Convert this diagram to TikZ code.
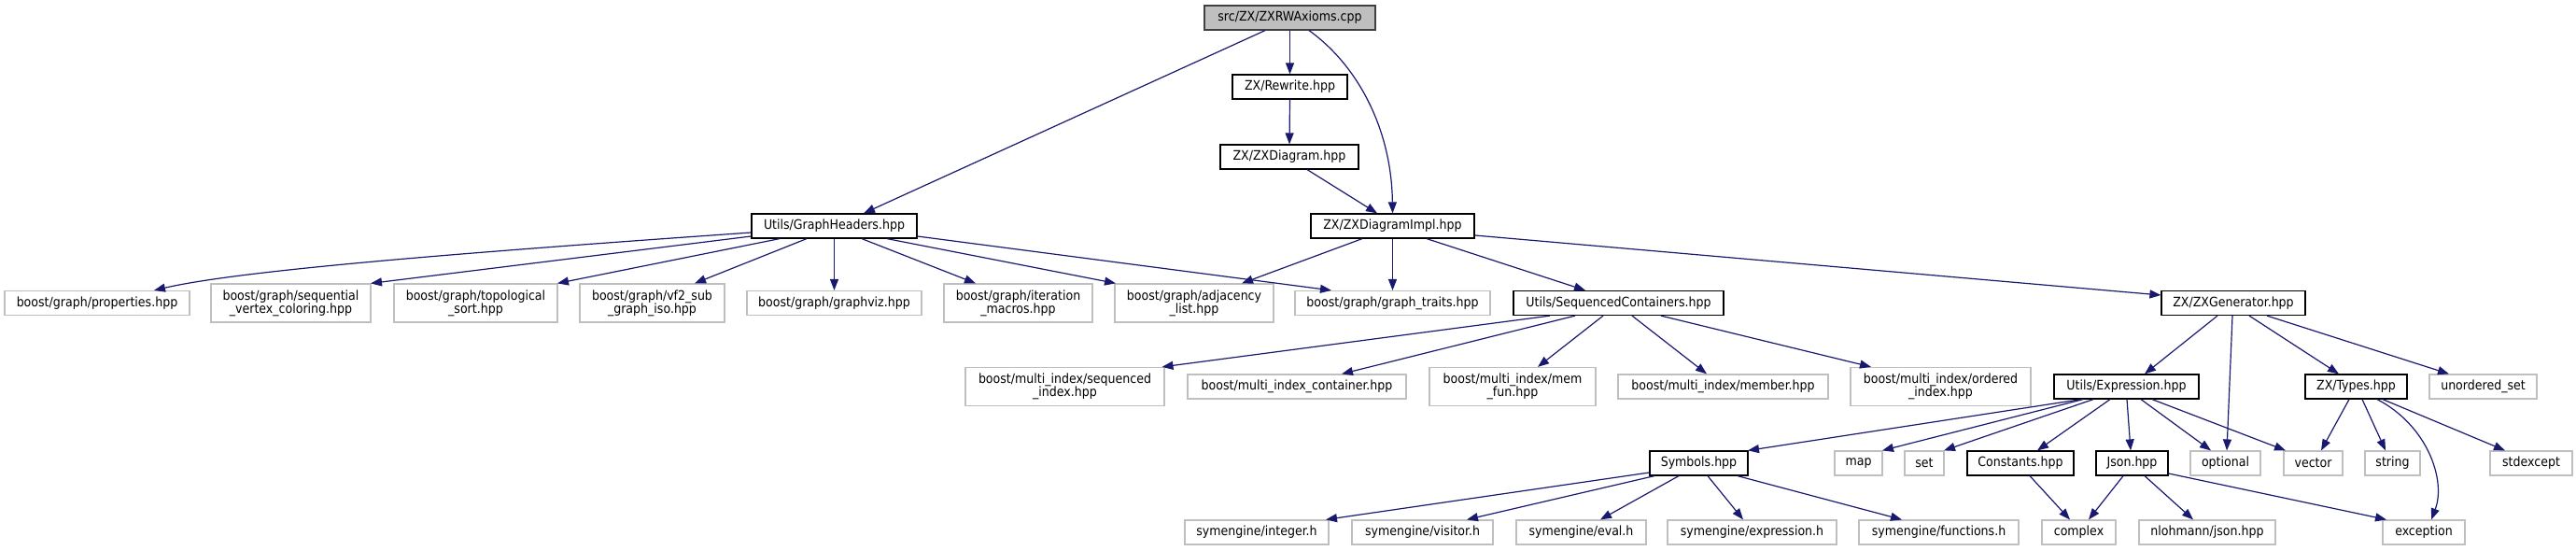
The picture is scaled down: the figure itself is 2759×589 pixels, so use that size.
\documentclass[tikz,border=0pt]{standalone}
\usepackage{fontspec}
\setmainfont{DejaVu Sans Condensed}
\usetikzlibrary{arrows.meta}
\definecolor{edgeblue}{HTML}{191970}
\definecolor{grayline}{HTML}{BFBFBF}
\definecolor{rootfill}{HTML}{BFBFBF}
\tikzset{
  base/.style={rectangle, inner sep=0pt, align=center, font=\fontsize{14}{14}\selectfont, text=black, line width=1.2pt},
  ext/.style={base, draw=grayline},
  doc/.style={base, draw=black},
  rootbox/.style={base, draw=black!75, fill=rootfill},
  one/.style={minimum height=26pt},
  two/.style={minimum height=41pt},
  edge/.style={draw=edgeblue, line width=1.2pt, -{Triangle[length=12pt,width=9pt]}, color=edgeblue},
}
\begin{document}
\begin{tikzpicture}[x=1pt,y=-1pt]
\useasboundingbox (0,0) rectangle (2759,589);
% level 0-3
\node[rootbox,one,minimum width=183pt] (root) at (1381.5,19) {src/ZX/ZXRWAxioms.cpp};
\node[doc,one,minimum width=123pt] (rewrite) at (1381.5,93) {ZX/Rewrite.hpp};
\node[doc,one,minimum width=148pt] (zxdiag) at (1381,168) {ZX/ZXDiagram.hpp};
\node[doc,one,minimum width=175pt] (impl) at (1491.5,242) {ZX/ZXDiagramImpl.hpp};
\node[doc,one,minimum width=177pt] (gh) at (893.5,242) {Utils/GraphHeaders.hpp};
% level 4
\node[ext,one,minimum width=198pt] (props) at (104,324.5) {boost/graph/properties.hpp};
\node[ext,two,minimum width=171pt] (seq) at (311.5,324.5) {boost/graph/sequential\\\_vertex\_coloring.hpp};
\node[ext,two,minimum width=175pt] (topo) at (509.5,324.5) {boost/graph/topological\\\_sort.hpp};
\node[ext,two,minimum width=155pt] (vf2) at (698.5,324.5) {boost/graph/vf2\_sub\\\_graph\_iso.hpp};
\node[ext,one,minimum width=187pt] (gviz) at (893.5,324.5) {boost/graph/graphviz.hpp};
\node[ext,two,minimum width=159pt] (iter) at (1090.5,324.5) {boost/graph/iteration\\\_macros.hpp};
\node[ext,two,minimum width=170pt] (adj) at (1279,324.5) {boost/graph/adjacency\\\_list.hpp};
\node[ext,one,minimum width=209pt] (traits) at (1491.5,324.5) {boost/graph/graph\_traits.hpp};
\node[doc,one,minimum width=225pt] (seqc) at (1733.5,324.5) {Utils/SequencedContainers.hpp};
\node[doc,one,minimum width=154pt] (gen) at (2392,324.5) {ZX/ZXGenerator.hpp};
% level 5
\node[ext,two,minimum width=213pt] (seqidx) at (1140.5,414) {boost/multi\_index/sequenced\\\_index.hpp};
\node[ext,one,minimum width=234pt] (mic) at (1389,414) {boost/multi\_index\_container.hpp};
\node[ext,two,minimum width=178pt] (memfun) at (1620,414) {boost/multi\_index/mem\\\_fun.hpp};
\node[ext,one,minimum width=225pt] (member) at (1845.5,414) {boost/multi\_index/member.hpp};
\node[ext,two,minimum width=193pt] (ordidx) at (2078.5,414) {boost/multi\_index/ordered\\\_index.hpp};
\node[doc,one,minimum width=155pt] (expr) at (2277.5,414) {Utils/Expression.hpp};
\node[doc,one,minimum width=109pt] (types) at (2523.5,414) {ZX/Types.hpp};
\node[ext,one,minimum width=115pt] (uset) at (2659.5,414) {unordered\_set};
% level 6
\node[doc,one,minimum width=105pt] (symbols) at (1819.5,496) {Symbols.hpp};
\node[ext,one,minimum width=51pt] (map) at (1990.5,496) {map};
\node[ext,one,minimum width=42pt] (set) at (2061,496) {set};
\node[doc,one,minimum width=114pt] (const) at (2164,496) {Constants.hpp};
\node[doc,one,minimum width=77pt] (json) at (2283.5,496) {Json.hpp};
\node[ext,one,minimum width=75pt] (optional) at (2383.5,496) {optional};
\node[ext,one,minimum width=63pt] (vector) at (2477.5,496) {vector};
\node[ext,one,minimum width=59pt] (string) at (2562.5,496) {string};
\node[ext,one,minimum width=88pt] (stdexcept) at (2711,496) {stdexcept};
% level 7
\node[ext,one,minimum width=154pt] (integer) at (1346,570) {symengine/integer.h};
\node[ext,one,minimum width=151pt] (visitor) at (1523.5,570) {symengine/visitor.h};
\node[ext,one,minimum width=139pt] (eval) at (1693.5,570) {symengine/eval.h};
\node[ext,one,minimum width=181pt] (expression) at (1876.5,570) {symengine/expression.h};
\node[ext,one,minimum width=171pt] (functions) at (2076.5,570) {symengine/functions.h};
\node[ext,one,minimum width=79pt] (complex) at (2226.5,570) {complex};
\node[ext,one,minimum width=146pt] (nlohmann) at (2364,570) {nlohmann/json.hpp};
\node[ext,one,minimum width=88pt] (exception) at (2596,570) {exception};

% edges from root
\draw[edge] ([xshift=-26.5pt]root.south) -- ([xshift=31.5pt]gh.north);
\draw[edge] (root.south) -- (rewrite.north);
\draw[edge] ([xshift=20.5pt]root.south) .. controls +(53,38) and +(-1,-89) .. (impl.north);
\draw[edge] (rewrite.south) -- (zxdiag.north);
\draw[edge] ([xshift=19pt]zxdiag.south) -- ([xshift=-16.5pt]impl.north);
% GraphHeaders
\draw[edge] ([yshift=-7pt]gh.west) .. controls +(-300,21) and +(95,-22) .. ([xshift=61pt]props.north);
\draw[edge] ([yshift=-11pt]gh.west) -- ([xshift=85.5pt]seq.north);
\draw[edge] ([xshift=-58.5pt]gh.south) -- ([xshift=87.5pt]topo.north);
\draw[edge] ([xshift=-29.5pt]gh.south) -- ([xshift=45.5pt]vf2.north);
\draw[edge] (gh.south) -- (gviz.north);
\draw[edge] ([xshift=29.5pt]gh.south) -- ([xshift=-45.5pt]iter.north);
\draw[edge] ([xshift=56.5pt]gh.south) -- ([xshift=-84pt]adj.north);
\draw[edge] ([yshift=-11pt]gh.east) -- ([xshift=-65.5pt]traits.north);
% ZXDiagramImpl
\draw[edge] ([xshift=-32.5pt]impl.south) -- ([xshift=51pt]adj.north);
\draw[edge] (impl.south) -- (traits.north);
\draw[edge] ([xshift=36.5pt]impl.south) -- ([xshift=-35.5pt]seqc.north);
\draw[edge] ([yshift=-10pt]impl.east) -- ([yshift=8.5pt]gen.west);
% SequencedContainers
\draw[edge] ([xshift=-73.5pt]seqc.south) -- ([xshift=104pt]seqidx.north);
\draw[edge] ([xshift=-46.5pt]seqc.south) -- ([xshift=48pt]mic.north);
\draw[edge] ([xshift=-16.5pt]seqc.south) -- ([xshift=27pt]memfun.north);
\draw[edge] ([xshift=14.5pt]seqc.south) -- ([xshift=-17.5pt]member.north);
\draw[edge] ([xshift=45.5pt]seqc.south) -- ([xshift=-74.5pt]ordidx.north);
% ZXGenerator
\draw[edge] ([xshift=-17pt]gen.south) -- ([xshift=19.5pt]expr.north);
\draw[edge] ([xshift=-1pt]gen.south) -- ([xshift=1.5pt]optional.north);
\draw[edge] ([xshift=17pt]gen.south) -- ([xshift=-18.5pt]types.north);
\draw[edge] ([xshift=36pt]gen.south) -- ([xshift=-36.5pt]uset.north);
% Expression
\draw[edge] ([xshift=-48.5pt]expr.south) -- ([xshift=52.5pt]symbols.north);
\draw[edge] ([xshift=-46.5pt]expr.south) -- ([xshift=25.5pt]map.north);
\draw[edge] ([xshift=-35.5pt]expr.south) -- ([xshift=21pt]set.north);
\draw[edge] ([xshift=-17.5pt]expr.south) -- ([xshift=18pt]const.north);
\draw[edge] ([xshift=0.5pt]expr.south) -- ([xshift=-1.5pt]json.north);
\draw[edge] ([xshift=15.5pt]expr.south) -- ([xshift=-15.5pt]optional.north);
\draw[edge] ([xshift=27.5pt]expr.south) -- ([xshift=-29.5pt]vector.north);
% Types
\draw[edge] ([xshift=-7.5pt]types.south) -- ([xshift=8.5pt]vector.north);
\draw[edge] ([xshift=6.5pt]types.south) -- ([xshift=-7.5pt]string.north);
\draw[edge] ([xshift=22.5pt]types.south) .. controls +(54,28) and +(16,-42) .. ([xshift=8pt]exception.north);
\draw[edge] ([xshift=28.5pt]types.south) -- ([xshift=-28pt]stdexcept.north);
% Constants, Json
\draw[edge] ([xshift=10pt]const.south) -- ([xshift=-9.5pt]complex.north);
\draw[edge] ([xshift=-9.5pt]json.south) -- ([xshift=10.5pt]complex.north);
\draw[edge] ([xshift=13.5pt]json.south) -- ([xshift=-15pt]nlohmann.north);
\draw[edge] ([yshift=-11pt]json.east) -- ([xshift=-40pt]exception.north);
% Symbols
\draw[edge] ([yshift=-10pt]symbols.west) -- ([xshift=74pt]integer.north);
\draw[edge] ([xshift=-47.5pt]symbols.south) -- ([xshift=47.5pt]visitor.north);
\draw[edge] ([xshift=-21.5pt]symbols.south) -- ([xshift=20.5pt]eval.north);
\draw[edge] ([xshift=9.5pt]symbols.south) -- ([xshift=-9.5pt]expression.north);
\draw[edge] ([xshift=41.5pt]symbols.south) -- ([xshift=-39.5pt]functions.north);
\end{tikzpicture}
\end{document}
